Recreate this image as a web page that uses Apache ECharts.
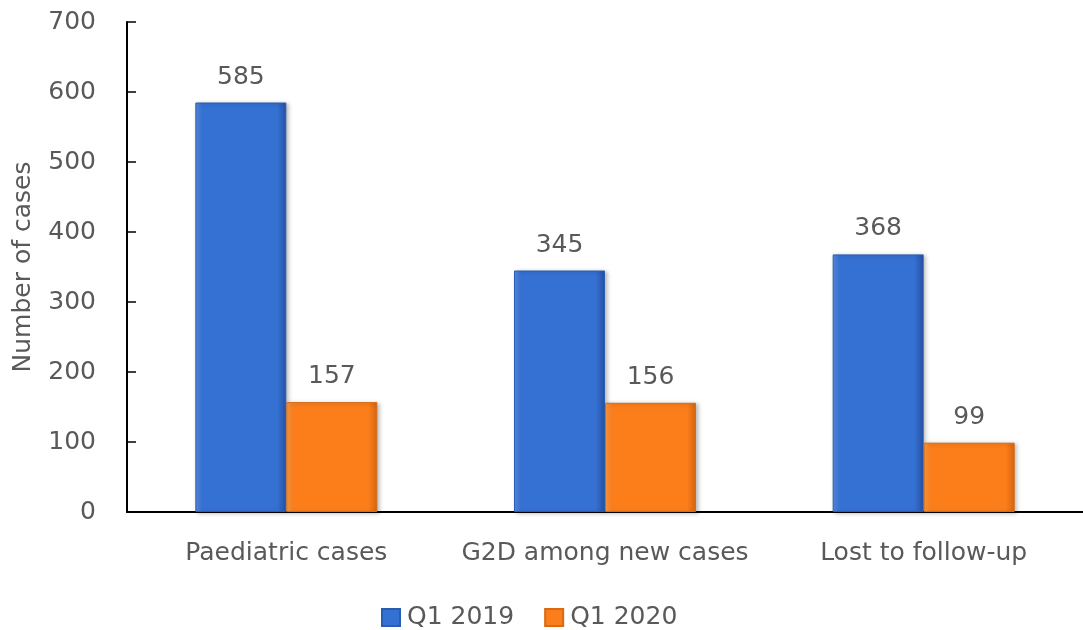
<!DOCTYPE html>
<html>
<head>
<meta charset="utf-8">
<script src="https://cdn.jsdelivr.net/npm/echarts@6/dist/echarts.min.js"></script>
<style>
  html, body { margin: 0; padding: 0; background: #fff; }
  #chart { width: 1083px; height: 630px; }
</style>
</head>
<body>
<div id="chart"></div>
<script>
var categories = ['Paediatric cases', 'G2D among new cases', 'Lost to follow-up']
var q12019 = [585, 345, 368]
var q12020 = [157, 156, 99]
var yTicks = [0, 100, 200, 300, 400, 500, 600, 700]

var textColor = '#595959'
var font = '"DejaVu Sans", sans-serif'
var fontSize = 25

// horizontal shading to fake the bevelled look of the bars
function barColor(light, mid, dark) {
  return new echarts.graphic.LinearGradient(0, 0, 1, 0, [
    { offset: 0, color: light },
    { offset: 0.08, color: mid },
    { offset: 0.9, color: mid },
    { offset: 1, color: dark }
  ])
}

var blue = barColor('#5a8ce0', '#3570d3', '#2752a3')
var orange = barColor('#ff9a44', '#fb7e1b', '#d8660f')

var chart = echarts.init(document.getElementById('chart'))
chart.setOption({
  backgroundColor: '#fff',
  animation: false,
  textStyle: { fontFamily: font },
  grid: {
    left: 127,
    top: 22,
    width: 964,
    height: 490,
    containLabel: false
  },
  legend: {
    top: 600,
    left: 376,
    itemWidth: 18,
    itemHeight: 17,
    itemGap: 30,
    icon: 'rect',
    textStyle: { color: textColor, fontSize: fontSize, fontFamily: font, padding: [0, 0, 0, 2] },
    data: ['Q1 2019', 'Q1 2020']
  },
  xAxis: {
    type: 'category',
    data: categories,
    axisLine: { lineStyle: { color: '#000', width: 2 } },
    axisTick: { show: false },
    axisLabel: { interval: 0, color: textColor, fontSize: fontSize, margin: 29, fontFamily: font }
  },
  yAxis: {
    type: 'value',
    min: yTicks[0],
    max: yTicks[yTicks.length - 1],
    interval: 100,
    name: 'Number of cases',
    nameLocation: 'middle',
    nameGap: 91,
    nameTextStyle: { color: textColor, fontSize: fontSize, fontFamily: font },
    axisLine: { show: true, lineStyle: { color: '#000', width: 2 } },
    axisTick: { show: true, inside: true, length: 9, lineStyle: { color: '#000', width: 1.5 } },
    splitLine: { show: false },
    axisLabel: { color: textColor, fontSize: fontSize, margin: 31, fontFamily: font }
  },
  series: [{
    name: 'Q1 2019',
    type: 'bar',
    data: q12019,
    barWidth: 91,
    barGap: '0%',
    itemStyle: {
      color: blue,
      borderColor: '#2a5cb0',
      borderWidth: 1,
      shadowColor: 'rgba(0,0,0,0.25)',
      shadowBlur: 4,
      shadowOffsetX: 2,
      shadowOffsetY: 1
    },
    label: { show: true, position: 'top', distance: 13, color: textColor, fontSize: fontSize, fontFamily: font }
  }, {
    name: 'Q1 2020',
    type: 'bar',
    data: q12020,
    barWidth: 91,
    itemStyle: {
      color: orange,
      borderColor: '#d66a15',
      borderWidth: 1,
      shadowColor: 'rgba(0,0,0,0.25)',
      shadowBlur: 4,
      shadowOffsetX: 2,
      shadowOffsetY: 1
    },
    label: { show: true, position: 'top', distance: 13, color: textColor, fontSize: fontSize, fontFamily: font }
  }]
})
</script>
</body>
</html>
